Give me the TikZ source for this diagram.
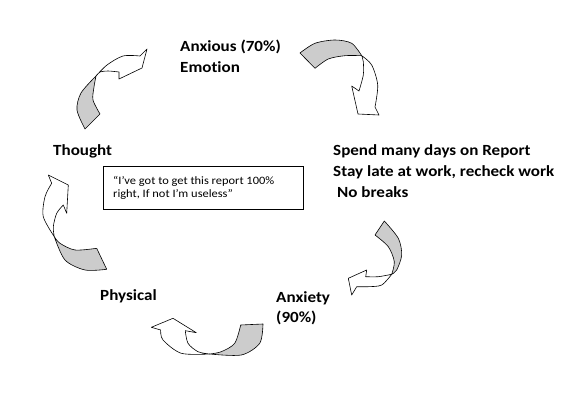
\documentclass[tikz,border=0pt]{standalone}
\usepackage{fontspec}
\setmainfont{Carlito}
\newfontfamily\lblfont[FakeStretch=1.1,Ligatures=NoCommon]{Carlito}
\begin{document}
\begin{tikzpicture}[x=1pt,y=-1pt,
  lbl/.style={font=\lblfont\bfseries\fontsize{15.5}{21}\selectfont,anchor=base west,inner sep=0pt},
  qsty/.style={font=\lblfont\fontsize{11.3}{13}\selectfont,anchor=base west,inner sep=0pt},
  tailsty/.style={draw=black,fill=black!20,line width=0.6pt,line join=round},
  bodysty/.style={draw=black,fill=white,line width=0.6pt,line join=round},
  quotebox/.style={draw=black,line width=0.7pt,minimum width=200pt,minimum height=43pt,inner sep=0pt}]
\useasboundingbox (0,0) rectangle (576,406);
\fill[white] (0,0) rectangle (576,406);

% Arrow 1 (Thought -> Emotion)
\path[tailsty] (85,129) -- plot[smooth] coordinates {(85,129) (77,110) (81,93) (96,76)}
  -- plot[smooth] coordinates {(96,76) (94,87) (93,100) (100,114)} -- cycle;
\path[bodysty] (96,76) -- plot[smooth] coordinates {(96,76) (107,65) (123,56) (140,56)}
  -- (147,49) -- (142,68) -- (119,79) -- (119,72)
  -- plot[smooth] coordinates {(119,72) (108,71) (100,72) (96,76)} -- cycle;

% Arrow 2 (Emotion -> Spend)
\path[tailsty] (300,53) -- plot[smooth] coordinates {(300,53) (315,43.3) (335,40) (351.7,43.3) (361.7,55.7)}
  -- plot[smooth] coordinates {(361.7,55.7) (345,55.7) (328.3,59) (315,68.3)} -- cycle;
\path[bodysty] (361.7,55.7) -- plot[smooth] coordinates {(361.7,55.7) (371.7,65) (377.7,85) (375,107)}
  -- (379,115) -- (358,114) -- (351.7,86) -- (359,91)
  -- plot[smooth] coordinates {(359,91) (363.3,75) (363.3,61.7) (361.7,55.7)} -- cycle;

% Arrow 3 (Spend -> Anxiety)
\path[tailsty] (384.3,221) -- plot[smooth] coordinates {(384.3,221) (398.3,238.3) (401.7,255) (396.7,270) (391.7,274.3)}
  -- plot[smooth] coordinates {(391.7,274.3) (394.3,261.7) (388.3,246.7) (375,235)} -- cycle;
\path[bodysty] (391.7,274.3) -- plot[smooth] coordinates {(391.7,274.3) (381.7,285) (368.3,286.7) (356.7,286.7)}
  -- (351.7,295) -- (348.3,278.3) -- (366.7,270) -- (365.7,276.7)
  -- plot[smooth] coordinates {(365.7,276.7) (378.3,276.7) (391.7,274.3)} -- cycle;

% Arrow 4 (Anxiety -> Physical)
\path[tailsty] (263,324) -- plot[smooth] coordinates {(263,324) (259.7,343.3) (241.3,355) (209.7,354)}
  -- plot[smooth] coordinates {(209.7,354) (221.3,351.7) (234.7,343.3) (240.7,325)} -- cycle;
\path[bodysty] (209.7,354) -- plot[smooth] coordinates {(209.7,354) (181.3,353.3) (163,340) (160.7,330)}
  -- (151.3,327.3) -- (173,318.3) -- (196.3,332.7) -- (185.3,330.7)
  -- plot[smooth] coordinates {(185.3,330.7) (188,343.3) (198,351.7) (209.7,354)} -- cycle;

% Arrow 5 (Physical -> Thought)
\path[tailsty] (106.7,269.3) -- plot[smooth] coordinates {(106.7,269.3) (85,270) (65,260) (54.3,236.7)}
  -- plot[smooth] coordinates {(54.3,236.7) (60,243.3) (75,250) (96.7,248.3)} -- cycle;
\path[bodysty] (54.3,236.7) -- plot[smooth] coordinates {(54.3,236.7) (43.3,216.7) (45,196.7) (51.7,183.3)}
  -- (48.3,175) -- (68.3,185) -- (66.7,213.3) -- (63.3,205)
  -- plot[smooth] coordinates {(63.3,205) (56.7,213.3) (53.3,226.7) (54.3,236.7)} -- cycle;

% Labels
\node[lbl] (emotion1) at (180,52) {Anxious (70\%)};
\node[lbl] (emotion2) at (180,73) {Emotion};
\node[lbl] (thought) at (53,156) {Thought};
\node[lbl] (spend1) at (333,156) {Spend many days on Report};
\node[lbl] (spend2) at (333,177) {Stay late at work, recheck work};
\node[lbl] (spend3) at (337,198) {No breaks};
\node[lbl] (anxiety1) at (276,303) {Anxiety};
\node[lbl] (anxiety2) at (276,323) {(90\%)};
\node[lbl] (physical) at (100,301) {Physical};

% Quote box
\node[quotebox,anchor=north west] (qbox) at (103,166) {};
\node[qsty] (q1) at (113,185) {“I’ve got to get this report 100\%};
\node[qsty] (q2) at (113,198) {right, If not I’m useless”};
\end{tikzpicture}
\end{document}
